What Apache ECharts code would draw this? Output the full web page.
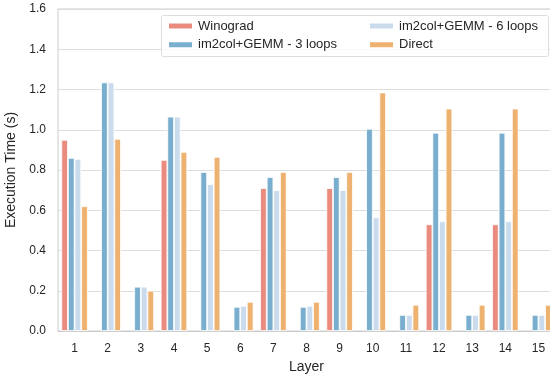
<!DOCTYPE html>
<html>
<head>
<meta charset="utf-8">
<script src="https://cdn.jsdelivr.net/npm/echarts@6/dist/echarts.min.js"></script>
<style>
  html, body { margin: 0; padding: 0; background: #fff; }
  #main { width: 550px; height: 377px; }
</style>
</head>
<body>
<div id="main"></div>
<script>
var layers = ['1', '2', '3', '4', '5', '6', '7', '8', '9', '10', '11', '12', '13', '14', '15'];
var winograd = [0.95, null, null, 0.85, null, null, 0.71, null, 0.71, null, null, 0.53, null, 0.53, null];
var gemm3 = [0.86, 1.235, 0.22, 1.065, 0.79, 0.12, 0.765, 0.12, 0.765, 1.005, 0.08, 0.985, 0.08, 0.985, 0.08];
var gemm6 = [0.855, 1.235, 0.22, 1.065, 0.73, 0.125, 0.70, 0.125, 0.70, 0.565, 0.08, 0.545, 0.08, 0.545, 0.08];
var direct = [0.62, 0.955, 0.20, 0.89, 0.865, 0.145, 0.79, 0.145, 0.79, 1.185, 0.13, 1.105, 0.13, 1.105, 0.13];

var font = 'Liberation Sans, Arial, sans-serif';
var chart = echarts.init(document.getElementById('main'));

function bar(name, data, color) {
  return {
    name: name,
    type: 'bar',
    data: data,
    barGap: '0%',
    barCategoryGap: '20%',
    itemStyle: { color: color, borderColor: '#fff', borderWidth: 0.8 },
    emphasis: { disabled: true }
  };
}

var legendText = { fontFamily: font, fontSize: 13, color: '#262626', lineHeight: 15 };

chart.setOption({
  animation: false,
  grid: {
    left: 58, right: -5, top: 9, bottom: 46,
    outerBoundsMode: 'none',
    containLabel: false,
    show: true, borderColor: '#cccccc', borderWidth: 1
  },
  graphic: [{
    type: 'rect',
    shape: { x: 161.5, y: 15.5, width: 387, height: 41, r: 2 },
    style: { fill: 'rgba(255,255,255,0.8)', stroke: '#dddddd', lineWidth: 1 },
    z: 90
  }],
  legend: [{
    orient: 'vertical',
    left: 167, top: 18.5,
    padding: 0,
    itemWidth: 25, itemHeight: 7, itemGap: 3.7,
    icon: 'rect',
    textStyle: legendText,
    data: ['Winograd', 'im2col+GEMM - 3 loops'],
    z: 100
  }, {
    orient: 'vertical',
    left: 368, top: 18.5,
    padding: 0,
    itemWidth: 25, itemHeight: 7, itemGap: 3.7,
    icon: 'rect',
    textStyle: legendText,
    data: ['im2col+GEMM - 6 loops', 'Direct'],
    z: 100
  }],
  xAxis: {
    type: 'category',
    data: layers,
    name: 'Layer',
    nameLocation: 'middle',
    nameGap: 29,
    nameTextStyle: { fontFamily: font, fontSize: 14, color: '#262626' },
    axisLine: { lineStyle: { color: '#cccccc' } },
    axisTick: { show: false },
    axisLabel: { fontFamily: font, fontSize: 12, color: '#262626', margin: 12 }
  },
  yAxis: {
    type: 'value',
    min: 0, max: 1.6, interval: 0.2,
    name: 'Execution Time (s)',
    nameLocation: 'middle',
    nameGap: 34,
    nameTextStyle: { fontFamily: font, fontSize: 14, color: '#262626' },
    axisLine: { show: false },
    axisTick: { show: false },
    axisLabel: {
      fontFamily: font, fontSize: 12, color: '#262626', margin: 12,
      formatter: function (v) { return v.toFixed(1); }
    },
    splitLine: { lineStyle: { color: '#dddddd', width: 1 } }
  },
  series: [
    bar('Winograd', winograd, '#EA8B7F'),
    bar('im2col+GEMM - 3 loops', gemm3, '#79AECE'),
    bar('im2col+GEMM - 6 loops', gemm6, '#C9DBEC'),
    bar('Direct', direct, '#EEB270')
  ]
});
</script>
</body>
</html>
